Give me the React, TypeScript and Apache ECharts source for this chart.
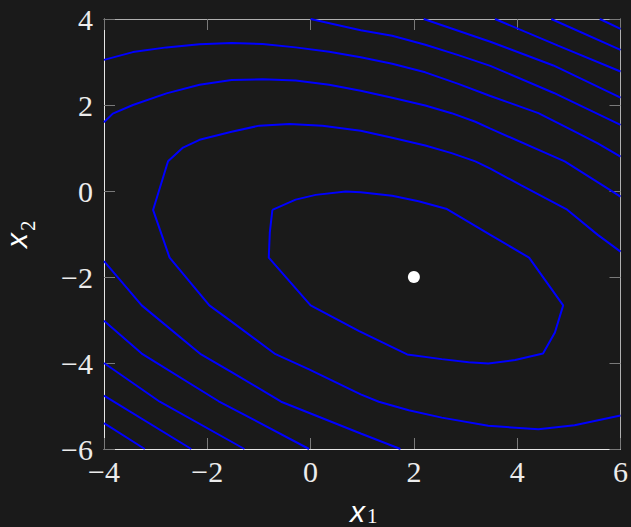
import React, { useEffect, useRef } from "react";
import * as echarts from "echarts";

// axis ticks
const xTicks = [-4, -2, 0, 2, 4, 6];
const yTicks = [-6, -4, -2, 0, 2, 4];

// minimum marker
const minimumPoint: [number, number][] = [[2, -2]];

// contour lines (x1, x2)
const contourInner: [number, number][] = [
  [-0.74, -0.44], [-0.29, -0.2], [0.1, -0.09], [0.68, -0.01], [0.97, -0.03], [1.58, -0.11],
  [2.09, -0.24], [2.64, -0.42], [3.48, -1.02], [4.23, -1.55], [4.89, -2.66], [4.73, -3.29],
  [4.5, -3.78], [3.96, -3.93], [3.44, -4.01], [3.06, -3.98], [2.54, -3.91], [1.87, -3.8],
  [0.94, -3.26], [0.0, -2.66], [-0.81, -1.55], [-0.79, -0.97], [-0.74, -0.44],
];
const contour2: [number, number][] = [
  [6.0, -5.22], [5.11, -5.45], [4.41, -5.54], [3.44, -5.46], [2.54, -5.27], [1.9, -5.1],
  [1.32, -4.9], [0.97, -4.73], [-0.03, -4.15], [-0.7, -3.78], [-1.55, -3.02], [-1.96, -2.66],
  [-2.73, -1.55], [-3.05, -0.44], [-2.76, 0.69], [-2.47, 1.01], [-2.15, 1.19], [-1.53, 1.38],
  [-0.99, 1.52], [-0.41, 1.56], [0.23, 1.52], [0.97, 1.4], [1.58, 1.24], [2.22, 1.06],
  [2.73, 0.88], [3.19, 0.69], [3.48, 0.52], [4.08, 0.13], [4.95, -0.42], [5.56, -1.02], [6.0, -1.41],
];
const contour3Upper: [number, number][] = [
  [-4.0, 1.6], [-3.83, 1.8], [-3.44, 2.0], [-2.79, 2.27], [-2.15, 2.47], [-1.53, 2.58],
  [-0.93, 2.6], [-0.29, 2.57], [0.36, 2.47], [0.97, 2.33], [1.58, 2.17], [2.22, 1.99],
  [2.73, 1.81], [3.19, 1.61], [3.48, 1.45], [4.92, 0.69], [6.0, -0.13],
];
const contour3Lower: [number, number][] = [
  [-4.0, -1.63], [-3.27, -2.66], [-2.12, -3.8], [-1.53, -4.21], [-0.57, -4.9], [0.97, -5.64], [1.74, -6.0],
];
const contour4Upper: [number, number][] = [
  [-4.0, 3.05], [-3.44, 3.23], [-2.79, 3.34], [-2.15, 3.41], [-1.53, 3.44], [-0.93, 3.42],
  [-0.29, 3.34], [0.36, 3.24], [0.97, 3.11], [1.58, 2.96], [2.22, 2.76], [2.86, 2.49],
  [3.48, 2.21], [4.41, 1.81], [5.05, 1.42], [5.56, 1.11], [6.0, 0.8],
];
const contour4Lower: [number, number][] = [
  [-4.0, -3.02], [-3.27, -3.78], [-1.78, -4.89], [-0.03, -6.0],
];
const contour5Upper: [number, number][] = [
  [0.0, 4.0], [0.97, 3.74], [1.58, 3.61], [2.22, 3.4], [2.86, 3.16], [3.48, 2.91], [4.71, 2.28], [6.0, 1.54],
];
const contour5Lower: [number, number][] = [
  [-4.0, -4.0], [-2.92, -4.9], [-1.28, -6.0],
];
const contour6Upper: [number, number][] = [[2.19, 4.0], [3.48, 3.47], [4.7, 2.92], [6.0, 2.17]];
const contour6Lower: [number, number][] = [[-4.0, -4.76], [-2.31, -6.0]];
const contour7Upper: [number, number][] = [[3.57, 4.0], [4.79, 3.38], [6.0, 2.78]];
const contour7Lower: [number, number][] = [[-4.0, -5.4], [-3.21, -6.0]];
const contour8: [number, number][] = [[4.66, 4.0], [6.0, 3.28]];
const contour9: [number, number][] = [[5.6, 4.0], [6.0, 3.77]];

const contours = [
  contourInner, contour2, contour3Upper, contour3Lower, contour4Upper, contour4Lower,
  contour5Upper, contour5Lower, contour6Upper, contour6Lower, contour7Upper, contour7Lower,
  contour8, contour9,
];

const minus = (v: number) => "{t|" + String(v).replace("-", "\u2212") + "}";
const SERIF = "Liberation Serif";
const SANS = "Liberation Sans";

export default function App() {
  const ref = useRef<HTMLDivElement>(null);
  useEffect(() => {
    const chart = echarts.init(ref.current!, null, { renderer: "svg" });
    const rich = { t: { fontFamily: SERIF, fontSize: 30, color: "#ececec" } };
    const tick = { show: true, inside: true, length: 11, lineStyle: { color: "#7a7a7a", width: 1 } };
    chart.setOption({
      animation: false,
      backgroundColor: "#1a1a1a",
      textStyle: { fontFamily: SERIF },
      grid: { left: 104, top: 19, right: 8, bottom: 78, containLabel: false },
      xAxis: [
        {
          type: "value", position: "bottom", min: xTicks[0], max: xTicks[xTicks.length - 1], interval: 2,
          axisLine: { show: true, onZero: false, lineStyle: { color: "#e6e6e6", width: 1 } },
          axisTick: tick, splitLine: { show: false },
          axisLabel: { fontFamily: SERIF, fontSize: 30, color: "#ececec", margin: 7, formatter: minus, rich },
        },
        {
          type: "value", position: "top", min: xTicks[0], max: xTicks[xTicks.length - 1], interval: 2,
          axisLine: { show: true, onZero: false, lineStyle: { color: "#b0b0b0", width: 1 } },
          axisTick: tick, splitLine: { show: false }, axisLabel: { show: false },
        },
      ],
      yAxis: [
        {
          type: "value", position: "left", min: yTicks[0], max: yTicks[yTicks.length - 1], interval: 2,
          axisLine: { show: true, onZero: false, lineStyle: { color: "#e6e6e6", width: 1 } },
          axisTick: tick, splitLine: { show: false },
          axisLabel: { fontFamily: SERIF, fontSize: 30, color: "#ececec", margin: 11, formatter: minus, rich },
        },
        {
          type: "value", position: "right", min: yTicks[0], max: yTicks[yTicks.length - 1], interval: 2,
          axisLine: { show: true, onZero: false, lineStyle: { color: "#b0b0b0", width: 1 } },
          axisTick: tick, splitLine: { show: false }, axisLabel: { show: false },
        },
      ],
      series: [
        ...contours.map((c) => ({
          type: "line",
          data: c,
          showSymbol: false,
          symbol: "none",
          smooth: false,
          lineStyle: { color: "#0000ff", width: 2, opacity: 1 },
          emphasis: { disabled: true },
          z: 2,
        })),
        {
          type: "scatter",
          data: minimumPoint,
          symbol: "circle",
          symbolSize: 12,
          itemStyle: { color: "#ffffff", opacity: 1 },
          emphasis: { disabled: true },
          z: 3,
        },
      ],
      graphic: [
        {
          type: "text", x: 350, y: 511,
          style: { text: "x", fontFamily: SANS, fontStyle: "italic", fontSize: 30, fill: "#ffffff", align: "left", verticalAlign: "middle" },
        },
        {
          type: "text", x: 367, y: 515.5,
          style: { text: "1", fontFamily: SERIF, fontSize: 21, fill: "#ffffff", align: "left", verticalAlign: "middle" },
        },
        {
          type: "group", x: 26, y: 248, rotation: Math.PI / 2,
          children: [
            {
              type: "text", x: 0, y: -10,
              style: { text: "x", fontFamily: SANS, fontStyle: "italic", fontSize: 30, fill: "#ffffff", align: "left", verticalAlign: "middle" },
            },
            {
              type: "text", x: 17, y: 2,
              style: { text: "2", fontFamily: SERIF, fontSize: 21, fill: "#ffffff", align: "left", verticalAlign: "middle" },
            },
          ],
        },
      ],
    });
    return () => chart.dispose();
  }, []);
  return (
    <div
      ref={ref}
      style={{ position: "fixed", left: 0, top: 0, width: 631, height: 527, background: "#1a1a1a" }}
    />
  );
}
